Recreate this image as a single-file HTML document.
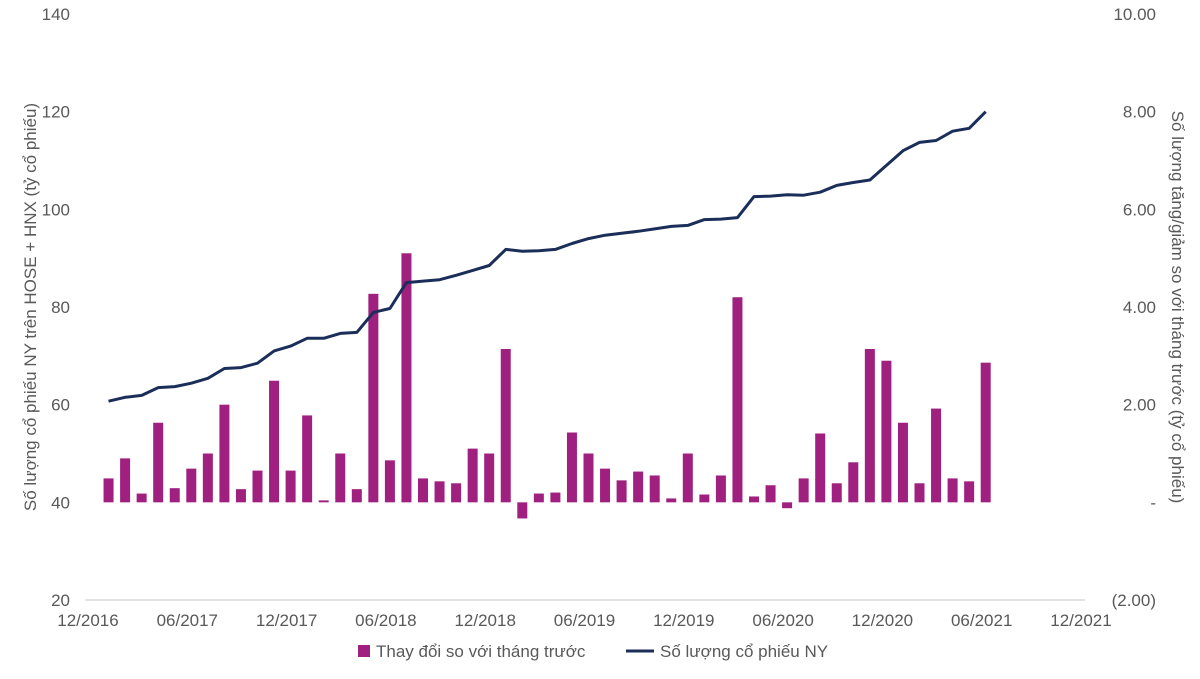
<!DOCTYPE html>
<html><head><meta charset="utf-8"><style>
body{margin:0;background:#fff;width:1200px;height:674px;overflow:hidden;font-family:"Liberation Sans","Noto Sans CJK SC",sans-serif}
</style></head><body>
<svg id="chart" width="1200" height="674" xmlns="http://www.w3.org/2000/svg" font-family="Liberation Sans, sans-serif"></svg>
<script>
const months = ["01/2017","02/2017","03/2017","04/2017","05/2017","06/2017","07/2017","08/2017","09/2017","10/2017","11/2017","12/2017",
"01/2018","02/2018","03/2018","04/2018","05/2018","06/2018","07/2018","08/2018","09/2018","10/2018","11/2018","12/2018",
"01/2019","02/2019","03/2019","04/2019","05/2019","06/2019","07/2019","08/2019","09/2019","10/2019","11/2019","12/2019",
"01/2020","02/2020","03/2020","04/2020","05/2020","06/2020","07/2020","08/2020","09/2020","10/2020","11/2020","12/2020",
"01/2021","02/2021","03/2021","04/2021","05/2021","06/2021"];
const changeValues = [0.49,0.9,0.18,1.63,0.29,0.69,1.0,2.0,0.27,0.65,2.49,0.65,
1.78,0.04,1.0,0.27,4.27,0.86,5.1,0.49,0.43,0.39,1.1,1.0,
3.14,-0.33,0.18,0.2,1.43,1.0,0.69,0.45,0.63,0.55,0.08,1.0,
0.16,0.55,4.2,0.12,0.35,-0.12,0.49,1.41,0.39,0.82,3.14,2.9,
1.63,0.39,1.92,0.49,0.43,2.86];
const totalValues = [60.7,61.5,61.9,63.5,63.7,64.4,65.4,67.4,67.6,68.5,71,72,
73.6,73.6,74.6,74.8,78.9,79.7,85,85.3,85.6,86.5,87.5,88.5,
91.8,91.4,91.5,91.8,93,94,94.7,95.1,95.5,96,96.5,96.7,
97.9,98,98.3,102.6,102.7,103,102.9,103.5,104.9,105.5,106,109,
112,113.7,114.1,116,116.6,120];
const leftTicks = [20,40,60,80,100,120,140];
const rightTicks = [-2,0,2,4,6,8,10];
const rightLabels = ["(2.00)","-","2.00","4.00","6.00","8.00","10.00"];
const xTickLabels = ["12/2016","06/2017","12/2017","06/2018","12/2018","06/2019","12/2019","06/2020","12/2020","06/2021","12/2021"];

const svg=document.getElementById('chart');
const NS="http://www.w3.org/2000/svg";
function mk(t,a,txt){const e=document.createElementNS(NS,t);for(const k in a)e.setAttribute(k,a[k]);if(txt!==undefined)e.textContent=txt;svg.appendChild(e);return e;}
const x=i=>92+16.55*i;
const yL=v=>600-(v-20)*(586/120);
const yR=v=>600-(v+2)*(586/12);

mk('line',{x1:85,x2:1085,y1:600,y2:600,stroke:'#d9d9d9','stroke-width':1.5,});
leftTicks.forEach(v=>{const t=mk('text',{x:70,y:yL(v)+6,'text-anchor':'end','font-size':17,fill:'#595959'},v);

});
rightTicks.forEach((v,i)=>{const t=mk('text',{x:1156,y:yR(v)+6,'text-anchor':'end','font-size':17,fill:'#595959'},rightLabels[i]);

});
xTickLabels.forEach((l,i)=>{const t=mk('text',{x:x(i*6)-4,y:626,'text-anchor':'middle','font-size':17,fill:'#595959'},l);

});

const y0=yR(0);
changeValues.forEach((v,i)=>{const yy=yR(v);
const r=mk('rect',{x:x(i+1)-5,y:Math.min(yy,y0),width:10,height:Math.max(1,Math.abs(y0-yy)),fill:'#a0207f'});

});

const pts=totalValues.map((v,i)=>x(i+1).toFixed(1)+','+yL(v).toFixed(1)).join(' ');
const pl=mk('polyline',{points:pts,fill:'none',stroke:'#1b2e5a','stroke-width':3,'stroke-linejoin':'round'});



const lt=mk('text',{transform:'translate(36,307) rotate(-90)','text-anchor':'middle','font-size':17,fill:'#595959'},'Số lượng cổ phiếu NY trên HOSE + HNX (tỷ cổ phiếu)');


const rt=mk('text',{transform:'translate(1172,307) rotate(90)','text-anchor':'middle','font-size':17,fill:'#595959'},'Số lượng tăng/giảm so với tháng trước (tỷ cổ phiếu)');



const lb=mk('rect',{x:358,y:645,width:12,height:12,fill:'#a0207f'});


const lbt=mk('text',{x:376,y:657,'font-size':17,fill:'#595959'},'Thay đổi so với tháng trước');


const ll=mk('line',{x1:626,x2:654,y1:651,y2:651,stroke:'#1b2e5a','stroke-width':3});


const llt=mk('text',{x:660,y:657,'font-size':17,fill:'#595959'},'Số lượng cổ phiếu NY');


</script>
</body></html>
